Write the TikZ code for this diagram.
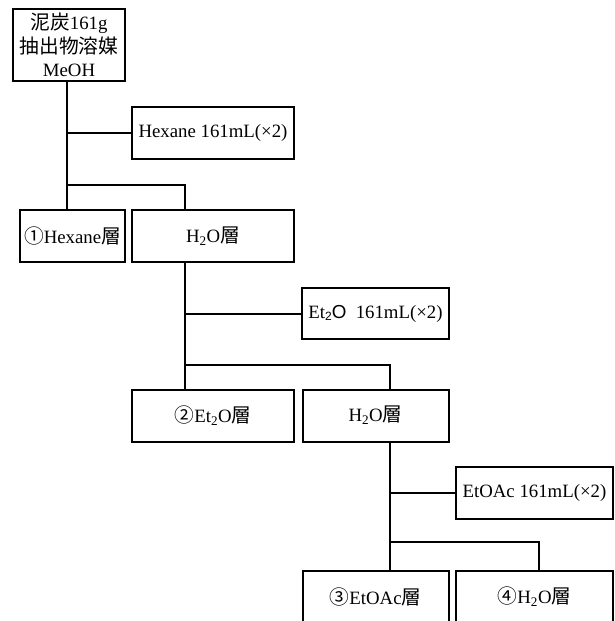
\documentclass[tikz,border=0pt]{standalone}
\usepackage{fontspec}
\setmainfont{Liberation Serif}
\newfontfamily\cjk[Scale=1.05]{Noto Sans CJK JP}
\newfontfamily\sansf{Liberation Sans}
\begin{document}
\begin{tikzpicture}[x=1pt,y=-1pt,
  box/.style={draw,line width=2pt,inner sep=0pt,align=center,font=\fontsize{18.8}{24}\selectfont},
  conn/.style={line width=2pt}]
\useasboundingbox (0,0) rectangle (615,621);
\clip (0,0) rectangle (615,621);
\fill[white] (0,0) rectangle (615,621);
% nodes
\node[box,minimum width=112pt,minimum height=72pt] (top) at (69,45) {{\cjk 泥炭}161g\\[-0.5pt]{\cjk 抽出物溶媒}\\[-0.5pt]MeOH};
\node[box,minimum width=162pt,minimum height=52pt] (hex) at (213,133) {Hexane 161mL(×2)};
\node[box,minimum width=105pt,minimum height=52pt] (hexl) at (72.5,236) {{\cjk ①}Hexane{\cjk 層}};
\node[box,minimum width=162pt,minimum height=52pt] (wa) at (213,236) {H\textsubscript{2}O{\cjk 層}};
\node[box,minimum width=147pt,minimum height=51pt] (et) at (375.5,313.5) {Et\raisebox{-0.25ex}{\sansf\fontsize{12}{12}\selectfont 2}{\sansf O}\ \ 161mL(×2)};
\node[box,minimum width=162pt,minimum height=52pt] (etl) at (213,415.5) {{\cjk ②}Et\textsubscript{2}O{\cjk 層}};
\node[box,minimum width=146pt,minimum height=52pt] (wb) at (375.5,415.5) {H\textsubscript{2}O{\cjk 層}};
\node[box,minimum width=157pt,minimum height=52pt] (ea) at (534.5,493) {EtOAc 161mL(×2)};
\node[box,minimum width=146pt,minimum height=52pt] (eal) at (375.5,597) {{\cjk ③}EtOAc{\cjk 層}};
\node[box,minimum width=157pt,minimum height=52pt] (wc) at (534.5,597) {{\cjk ④}H\textsubscript{2}O{\cjk 層}};
% junctions
\coordinate (j1) at (67,185);
\coordinate (j1r) at (185,185);
\coordinate (j2) at (185,365);
\coordinate (j2r) at (390,365);
\coordinate (j3) at (390,542);
\coordinate (j3r) at (539,542);
% connectors
\draw[conn] (top.south -| j1) -- (j1);
\draw[conn] (hex.west -| j1) -- (hex.west);
\draw[conn] (hexl.north -| j1) -- (j1) -- (j1r) -- (wa.north -| j1r);
\draw[conn] (wa.south -| j2) -- (j2);
\draw[conn] (et.west -| j2) -- (et.west);
\draw[conn] (etl.north -| j2) -- (j2) -- (j2r) -- (wb.north -| j2r);
\draw[conn] (wb.south -| j3) -- (j3);
\draw[conn] (ea.west -| j3) -- (ea.west);
\draw[conn] (eal.north -| j3) -- (j3) -- (j3r) -- (wc.north -| j3r);
\end{tikzpicture}
\end{document}
